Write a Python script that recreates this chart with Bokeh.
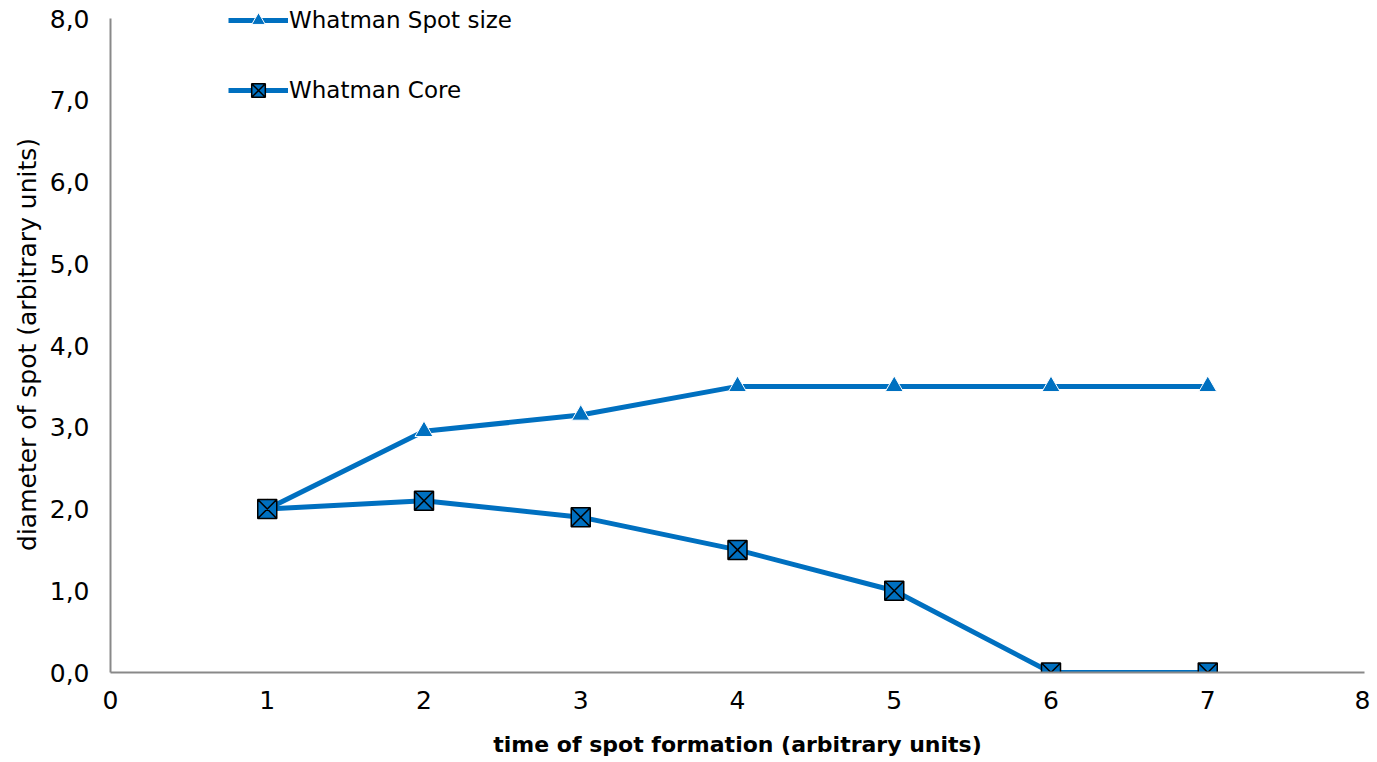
from bokeh.plotting import figure
from bokeh.models import FixedTicker, Range1d, Legend, LegendItem
from bokeh.embed import file_html
from bokeh.resources import INLINE

x_vals = [1, 2, 3, 4, 5, 6, 7]
spot_size = [2.0, 2.95, 3.15, 3.5, 3.5, 3.5, 3.5]
core = [2.0, 2.1, 1.9, 1.5, 1.0, 0.0, 0.0]
x_ticks = [0, 1, 2, 3, 4, 5, 6, 7, 8]
y_ticks = [0, 1, 2, 3, 4, 5, 6, 7, 8]
y_tick_labels = {t: f"{t:.1f}".replace(".", ",") for t in y_ticks}

BLUE = "#0070C0"
FONT = "DejaVu Sans"
AXIS_COL = "#898989"

# frame spans the full top so the legend (which sits above the 8,0 line) is not clipped
Y_TOP = 8 + 18 / 81.75

p = figure(width=1370, height=762, output_backend="svg", toolbar_location=None,
           x_range=Range1d(0, 8), y_range=Range1d(0, Y_TOP),
           min_border_left=110, min_border_right=6, min_border_top=0, min_border_bottom=90)
p.outline_line_color = None
p.xgrid.grid_line_color = None
p.ygrid.grid_line_color = None

l1 = p.line(x_vals, spot_size, line_color=BLUE, line_width=5)
m1 = p.scatter(x_vals, spot_size, marker="triangle", size=18, fill_color=BLUE,
               line_color="white", line_width=1)
l2 = p.line(x_vals, core, line_color=BLUE, line_width=5)
m2 = p.scatter(x_vals, core, marker="square_x", size=19, fill_color=BLUE,
               line_color="black", line_width=1.5)

for ax in (p.xaxis[0], p.yaxis[0]):
    ax.axis_line_color = AXIS_COL
    ax.axis_line_width = 2
    ax.major_tick_line_color = None
    ax.minor_tick_line_color = None
    ax.major_label_text_font = FONT
    ax.major_label_text_font_size = "25px"
    ax.major_label_text_color = "black"
    ax.axis_label_text_font = FONT
    ax.axis_label_text_color = "black"

p.yaxis.bounds = (0, 8)
p.xaxis.ticker = FixedTicker(ticks=x_ticks)
p.yaxis.ticker = FixedTicker(ticks=y_ticks)
p.yaxis.major_label_overrides = y_tick_labels
p.xaxis.major_label_standoff = 12
p.yaxis.major_label_standoff = 15
p.xaxis.axis_label = "time of spot formation (arbitrary units)"
p.xaxis.axis_label_text_font_style = "bold"
p.xaxis.axis_label_text_font_size = "22px"
p.xaxis.axis_label_standoff = 20
# two trailing no-break spaces centre the visible text on the 0..8 span
p.yaxis.axis_label = "diameter of spot (arbitrary units)\u00a0\u00a0"
p.yaxis.axis_label_text_font_style = "normal"
p.yaxis.axis_label_text_font_size = "25px"
p.yaxis.axis_label_standoff = 5

legend = Legend(items=[LegendItem(label="Whatman Spot size", renderers=[l1, m1]),
                       LegendItem(label="Whatman Core", renderers=[l2, m2])],
                location=(118, 565), glyph_width=60, glyph_height=34, label_height=34,
                spacing=36, padding=2, margin=0, label_standoff=1,
                label_text_font=FONT, label_text_font_size="23px", label_text_color="black",
                border_line_color=None, background_fill_alpha=0)
p.add_layout(legend, "center")

open("out.html", "w").write(file_html(p, INLINE))
